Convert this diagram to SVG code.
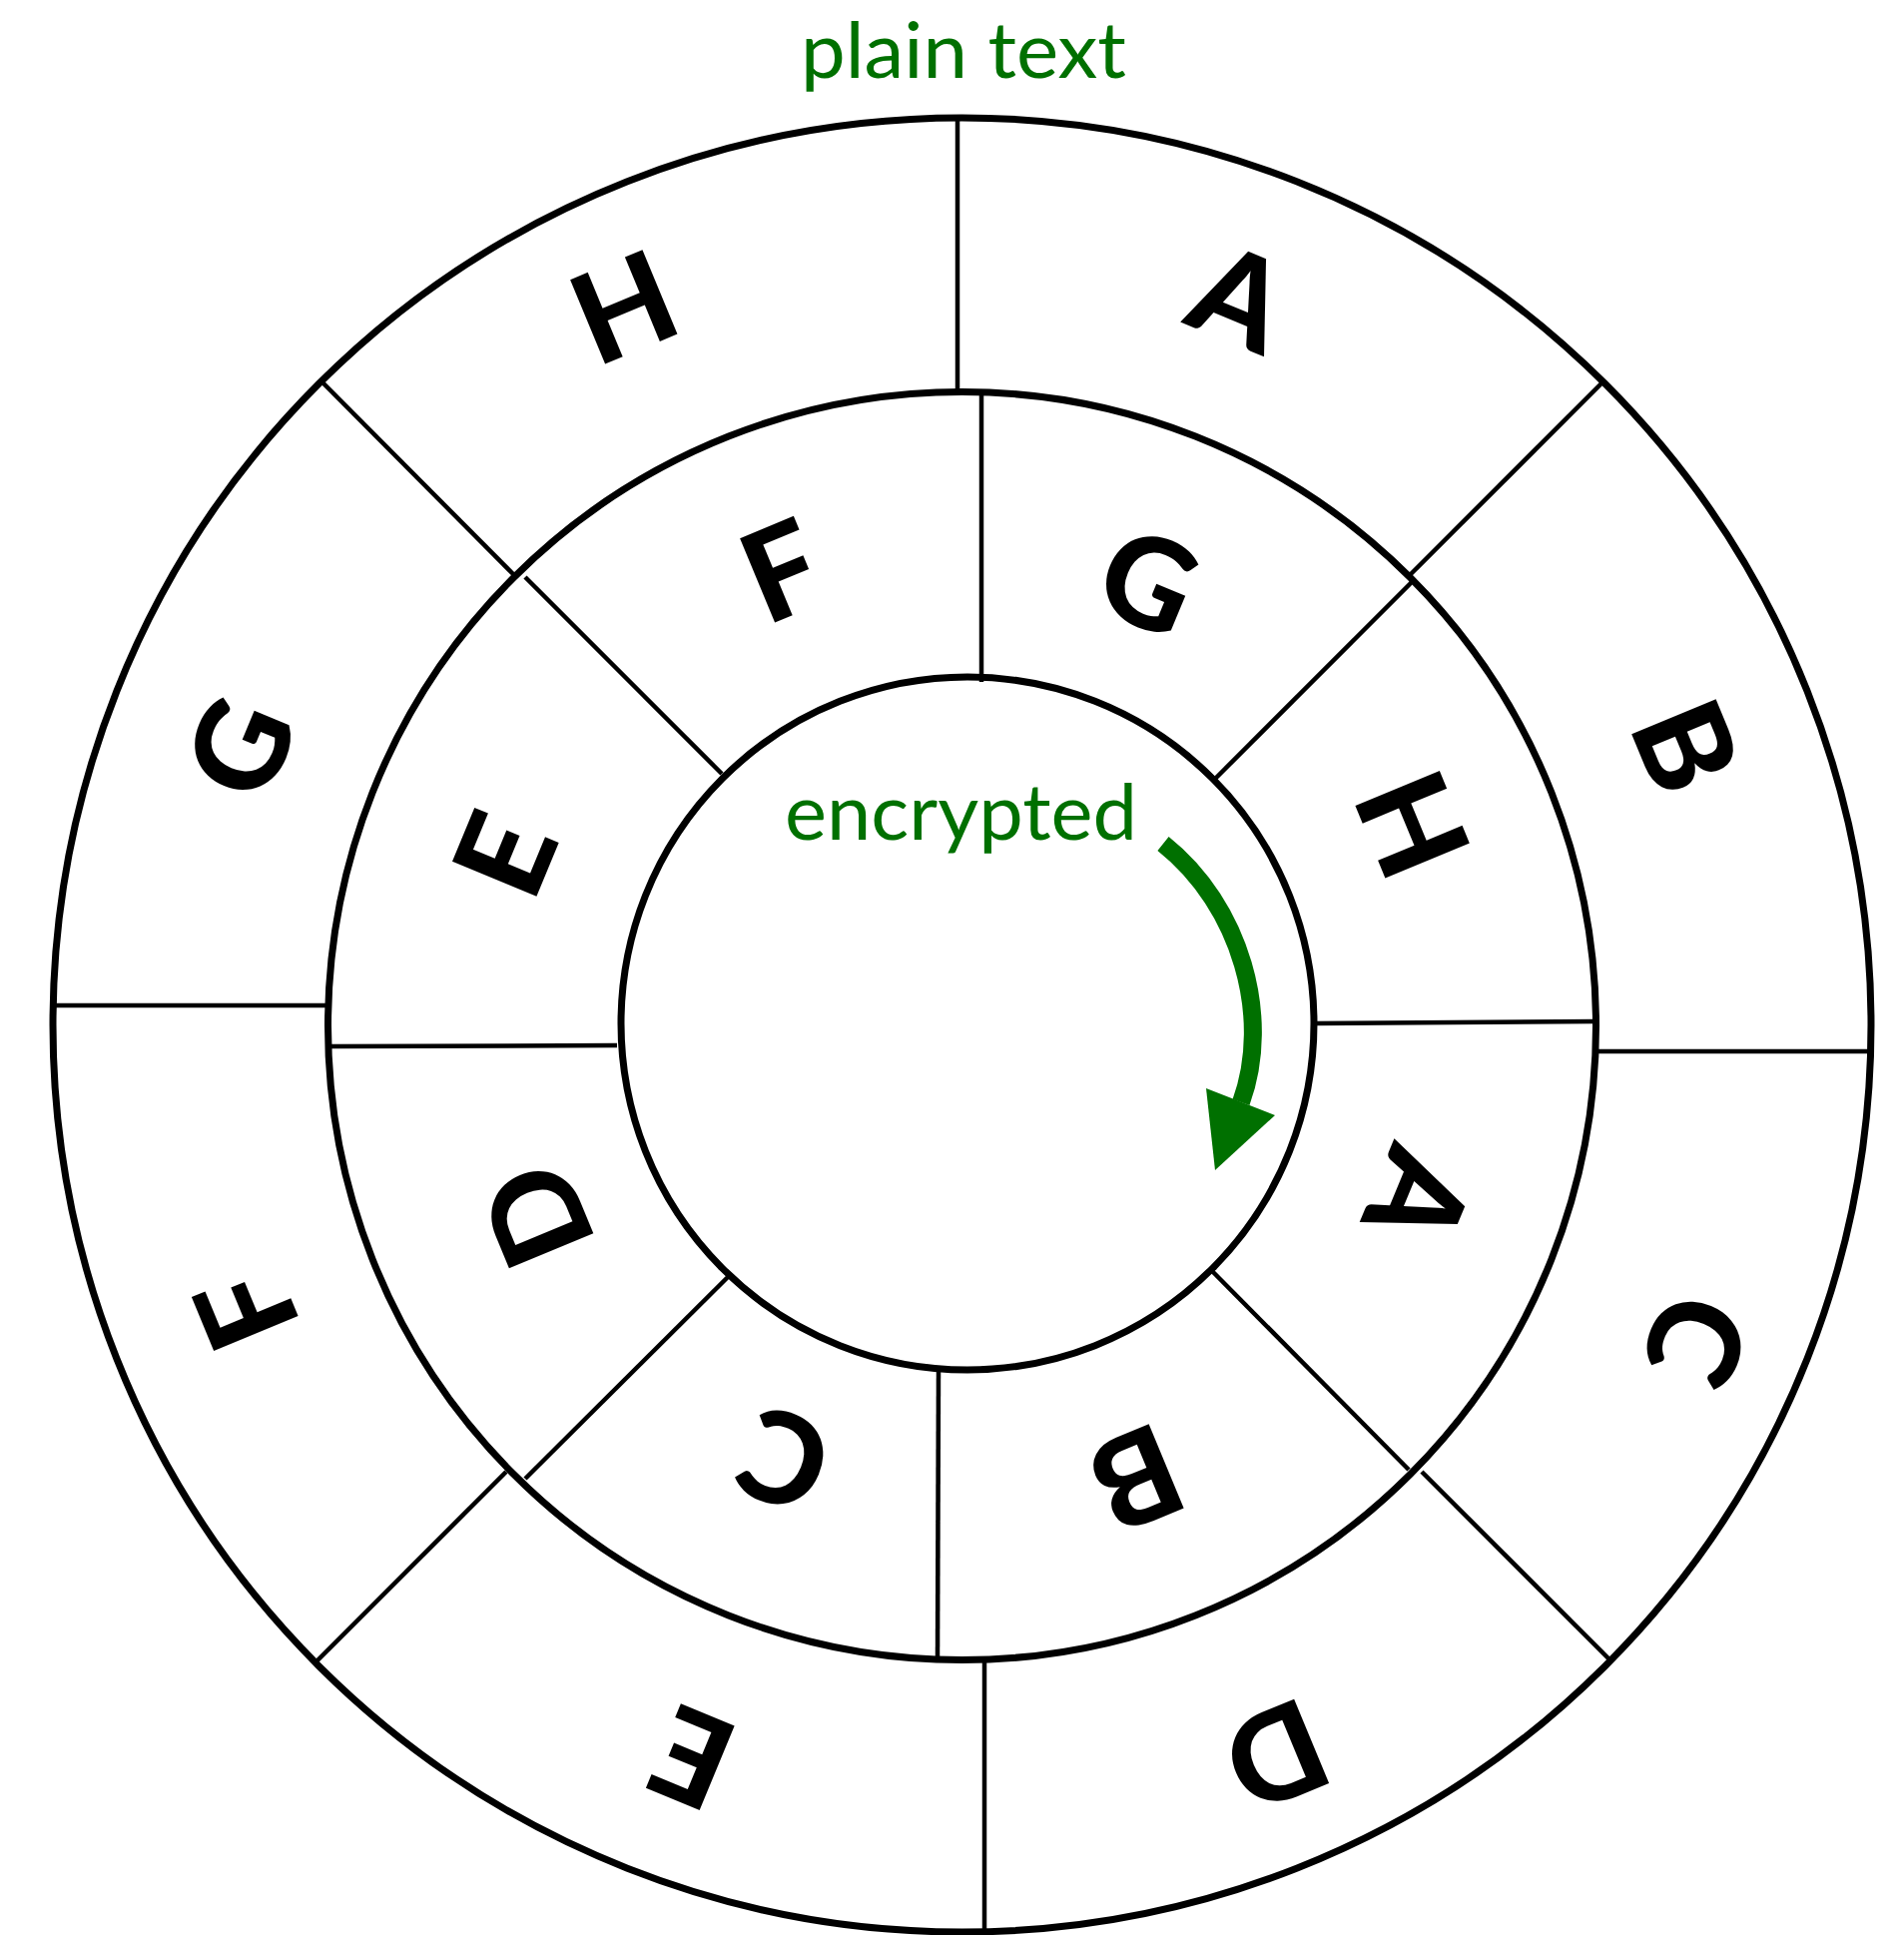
<svg xmlns="http://www.w3.org/2000/svg" width="1907" height="1938" viewBox="0 0 1907 1938">
<style>
.ring{fill:none;stroke:#000;stroke-width:7}
.spoke{stroke:#000;stroke-width:4.5;fill:none}
.let{font-family:Lato,"Liberation Sans",sans-serif;font-weight:900;font-size:126px;fill:#000;text-anchor:middle}
.lbl{font-family:Lato,"Open Sans","Liberation Sans",sans-serif;font-size:77px;fill:#007000;text-anchor:middle}
</style>
<rect width="1907" height="1938" fill="#fff"/>
<g id="rings">
<ellipse id="outer-ring" class="ring" cx="963.5" cy="1026.5" rx="910.5" ry="908.5"/>
<circle id="middle-ring" class="ring" cx="963.5" cy="1027.5" r="635"/>
<circle id="inner-ring" class="ring" cx="969" cy="1025" r="347"/>
</g>
<g id="connectors">
<line class="spoke" x1="959" y1="118" x2="959" y2="393"/>
<line class="spoke" x1="1599" y1="1053" x2="1874" y2="1053"/>
<line class="spoke" x1="986" y1="1662" x2="986" y2="1935"/>
<line class="spoke" x1="53" y1="1007" x2="328" y2="1007"/>
<line class="spoke" x1="1413" y1="575" x2="1604" y2="384"/>
<line class="spoke" x1="324" y1="384" x2="514" y2="575"/>
<line class="spoke" x1="316" y1="1665" x2="507" y2="1474"/>
<line class="spoke" x1="1424" y1="1474" x2="1614" y2="1664"/>
<line class="spoke" x1="983" y1="393" x2="983" y2="683"/>
<line class="spoke" x1="1316" y1="1025" x2="1598" y2="1023"/>
<line class="spoke" x1="940" y1="1372" x2="939" y2="1661"/>
<line class="spoke" x1="332" y1="1048" x2="618" y2="1047"/>
<line class="spoke" x1="526" y1="578" x2="723" y2="775"/>
<line class="spoke" x1="1217" y1="780" x2="1415" y2="582"/>
<line class="spoke" x1="526" y1="1481" x2="729" y2="1279"/>
<line class="spoke" x1="1214" y1="1273" x2="1411" y2="1472"/>
</g>
<g id="outer-letters">
<g id="o-A" transform="translate(1226,304) rotate(22.5)"><text class="let" x="12" y="34">A</text></g>
<g id="o-B" transform="translate(1688,748) rotate(67.5)"><text class="let" x="0" y="45">B</text></g>
<g id="o-C" transform="translate(1699,1342) rotate(112.5)"><text class="let" x="0" y="45">C</text></g>
<g id="o-D" transform="translate(1278,1758) rotate(157.5)"><text class="let" x="0" y="45">D</text></g>
<g id="o-E" transform="translate(694,1760) rotate(202.5)"><text class="let" x="0" y="45">E</text></g>
<g id="o-F" transform="translate(247,1311) rotate(247.5)"><text class="let" x="0" y="45">F</text></g>
<g id="o-G" transform="translate(241,749) rotate(292.5)"><text class="let" x="0" y="45">G</text></g>
<g id="o-H" transform="translate(625,308) rotate(337.5)"><text class="let" x="0" y="45">H</text></g>
</g>
<g id="middle-letters">
<g id="m-G" transform="translate(1150,583) rotate(22.5)"><text class="let" x="0" y="45">G</text></g>
<g id="m-H" transform="translate(1414,826) rotate(67.5)"><text class="let" x="0" y="45">H</text></g>
<g id="m-A" transform="translate(1415,1184) rotate(112.5)"><text class="let" x="12" y="34">A</text></g>
<g id="m-B" transform="translate(1138,1480) rotate(157.5)"><text class="let" x="0" y="45">B</text></g>
<g id="m-C" transform="translate(786,1462) rotate(202.5)"><text class="let" x="0" y="45">C</text></g>
<g id="m-D" transform="translate(538,1217) rotate(247.5)"><text class="let" x="0" y="45">D</text></g>
<g id="m-E" transform="translate(506,856) rotate(292.5)"><text class="let" x="0" y="45">E</text></g>
<g id="m-F" transform="translate(783,572) rotate(337.5)"><text class="let" x="0" y="45">F</text></g>
</g>
<g id="labels">
<text id="plain-label" class="lbl" x="965" y="78" textLength="326" lengthAdjust="spacingAndGlyphs">plain text</text>
<text id="enc-label" class="lbl" x="962.5" y="841" textLength="353" lengthAdjust="spacingAndGlyphs">encrypted</text>
</g>
<g id="arrow">
<path d="M1165,845 C1243,907 1274,1019 1243,1104" fill="none" stroke="#007000" stroke-width="18"/>
<polygon points="1208,1090 1277,1117 1217,1172" fill="#007000"/>
</g>
</svg>
